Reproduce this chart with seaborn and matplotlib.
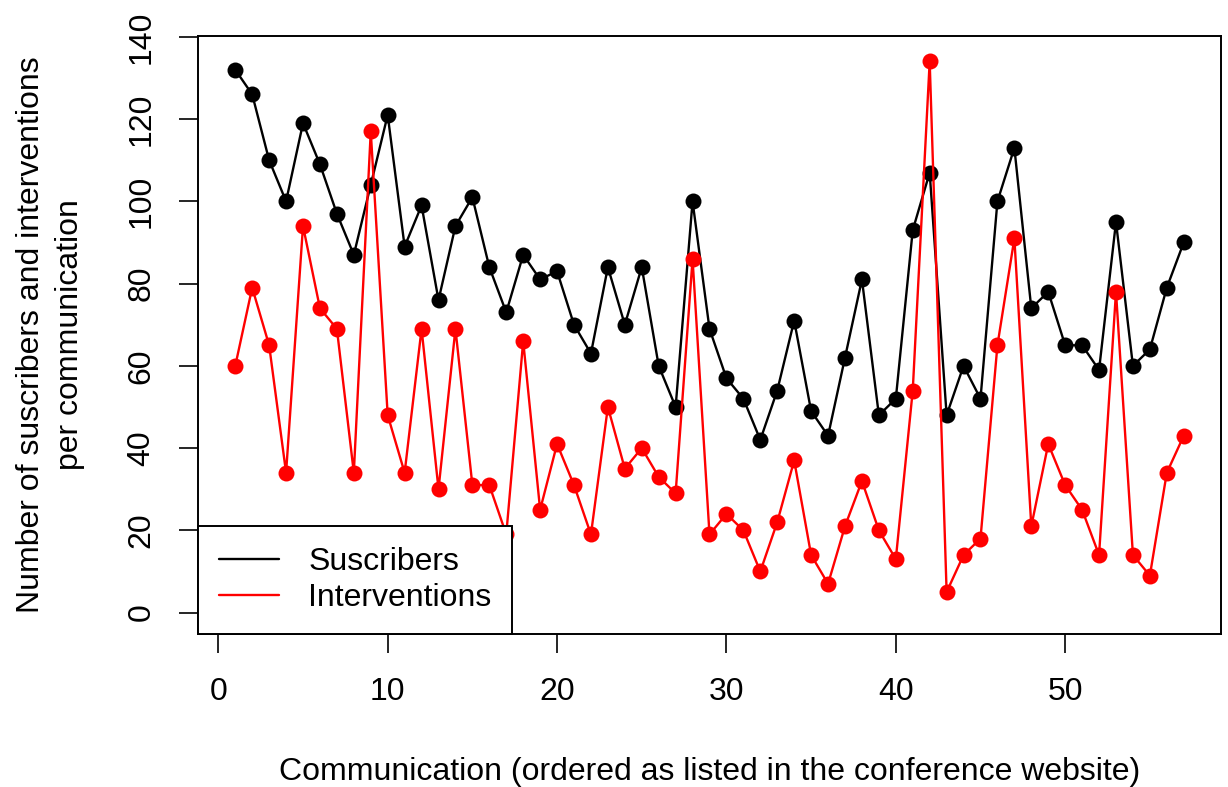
import numpy as np
import pandas as pd
import matplotlib
matplotlib.use("Agg")
import matplotlib.pyplot as plt
import seaborn as sns
from matplotlib.lines import Line2D

communication = list(range(1, 58))
suscribers = [132, 126, 110, 100, 119, 109, 97, 87, 104, 121,
              89, 99, 76, 94, 101, 84, 73, 87, 81, 83,
              70, 63, 84, 70, 84, 60, 50, 100, 69, 57,
              52, 42, 54, 71, 49, 43, 62, 81, 48, 52,
              93, 107, 48, 60, 52, 100, 113, 74, 78, 65,
              65, 59, 95, 60, 64, 79, 90]
interventions = [60, 79, 65, 34, 94, 74, 69, 34, 117, 48,
                 34, 69, 30, 69, 31, 31, 19, 66, 25, 41,
                 31, 19, 50, 35, 40, 33, 29, 86, 19, 24,
                 20, 10, 22, 37, 14, 7, 21, 32, 20, 13,
                 54, 134, 5, 14, 18, 65, 91, 21, 41, 31,
                 25, 14, 78, 14, 9, 34, 43]
series_names = ["Suscribers", "Interventions"]
series_colors = ["#000000", "#ff0000"]
x_ticks = [0, 10, 20, 30, 40, 50]
y_ticks = [0, 20, 40, 60, 80, 100, 120, 140]

df = pd.DataFrame({
    "Communication": communication * 2,
    "Count": suscribers + interventions,
    "Series": [series_names[0]] * len(suscribers) + [series_names[1]] * len(interventions),
})

sns.set_theme(style="white")
plt.rcParams["font.family"] = ["Liberation Sans", "DejaVu Sans"]
plt.rcParams["text.color"] = "black"

FS = 23

fig = plt.figure(figsize=(12.28, 7.87), dpi=100)
ax = fig.add_axes([198 / 1228, 1 - 634 / 787, 1023 / 1228, 598 / 787])

for name, col in zip(series_names, series_colors):
    sub = df[df["Series"] == name]
    sns.lineplot(data=sub, x="Communication", y="Count", ax=ax, color=col,
                 linewidth=1.7, marker="o", markersize=11.5,
                 markeredgewidth=0, markerfacecolor=col, label=name,
                 legend=False)

ax.set_xlim(-1.2, 59.2)
ax.set_ylim(-5.2, 140.2)
ax.set_xticks(x_ticks)
ax.set_yticks(y_ticks)
ax.set_xticklabels([str(t) for t in x_ticks])
ax.set_yticklabels([str(t) for t in y_ticks], rotation=90, va="center")

for s in ax.spines.values():
    s.set_visible(True)
    s.set_color("black")
    s.set_linewidth(1.4)

ax.tick_params(axis="both", which="major", direction="out", length=14,
               width=1.2, color="black", labelsize=FS, labelcolor="black",
               bottom=True, left=True)
ax.tick_params(axis="x", pad=17)
ax.tick_params(axis="y", pad=16)

ax.set_xlabel("Communication (ordered as listed in the conference website)",
              fontsize=FS, color="black")
ax.xaxis.set_label_coords(0.5, -0.205)
ax.set_ylabel("Number of suscribers and interventions\nper communication",
              fontsize=FS, color="black", linespacing=1.4)
ax.yaxis.set_label_coords(-0.11, 0.5)

handles = [Line2D([0], [0], color=c, lw=1.7) for c in series_colors]
leg = ax.legend(handles, series_names, loc="lower left", bbox_to_anchor=(0, 0),
                borderaxespad=0, fancybox=False, edgecolor="black", framealpha=1,
                fontsize=FS, handlelength=1.9, handletextpad=0.9,
                borderpad=0.65, labelspacing=0.2)
leg.get_frame().set_linewidth(1.4)
for t in leg.get_texts():
    t.set_color("black")

fig.savefig("out.png", dpi=100, facecolor="white")
